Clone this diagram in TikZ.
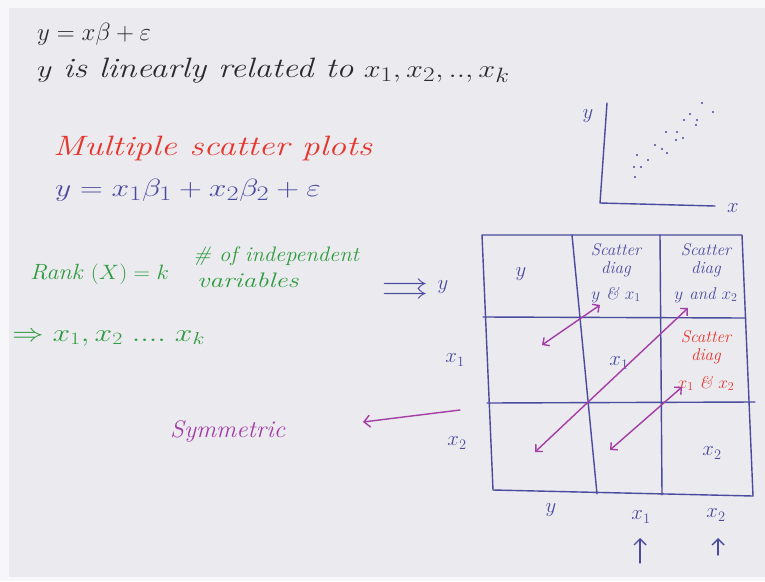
\documentclass[tikz,border=0pt]{standalone}
\usepackage{amsmath}
\usepackage{amssymb}
\usetikzlibrary{arrows.meta}

\definecolor{paper}{HTML}{EAEAEF}
\definecolor{inkblack}{HTML}{2B2B2E}
\definecolor{inkred}{HTML}{E8352C}
\definecolor{inkblue}{HTML}{4A4B9E}
\definecolor{inkgreen}{HTML}{2E9B3E}
\definecolor{inkpurple}{HTML}{A43DA6}

\begin{document}
\begin{tikzpicture}[x=1pt, y=-1pt,
  every node/.style={inner sep=0pt},
  line/.style={anchor=base west, font=\fontsize{24}{28}\selectfont},
  bigline/.style={anchor=base west, font=\fontsize{28}{32}\selectfont},
  lab/.style={anchor=center, font=\fontsize{20}{24}\selectfont},
  cell/.style={anchor=north, align=center, font=\fontsize{17}{18}\selectfont\itshape},
  pen/.style={line width=1.4pt, line cap=round, line join=round},
  link/.style={pen, inkpurple, {Straight Barb[length=5pt]}-{Straight Barb[length=5pt]}},
  tip/.style={pen, -{Straight Barb[length=6pt]}}
]
% paper
\fill[white!60!paper] (0,0) rectangle (765,581);
\fill[paper] (9,8) rectangle (765,577);
\useasboundingbox (0,0) rectangle (765,581);

% model
\node[line, inkblack] (model) at (37,40) {$y = x\beta + \varepsilon$};
\node[bigline, inkblack] (lin) at (37,77) {\scalebox{1.22}[1]{$y$ \textit{is linearly related to} $x_1, x_2, .., x_k$}};
\node[bigline, inkred] (title) at (53,155) {\scalebox{1.27}[1]{\textit{Multiple scatter plots}}};
\node[bigline, inkblue] (model2) at (55,196) {\scalebox{1.27}[1]{$y = x_1\beta_1 + x_2\beta_2 + \varepsilon$}};

% rank
\node[line, inkgreen, font=\fontsize{22}{26}\selectfont] (rank) at (30,279) {\scalebox{1.1}[1]{\textit{Rank} $(X) = k$}};
\node[line, inkgreen, font=\fontsize{21}{24}\selectfont\itshape] (indep) at (193,261) {\scalebox{1.07}[1]{\# of independent}};
\node[line, inkgreen, font=\fontsize{21}{24}\selectfont\itshape] (vars) at (197,287) {\scalebox{1.3}[1]{variables}};
\node[line, inkgreen] (vlist) at (12,341) {\scalebox{1.27}[1]{$\Rightarrow x_1, x_2 \;....\; x_k$}};

% row labels
\node[lab, inkblue, font=\fontsize{30}{30}\selectfont] (arr) at (405,289) {\scalebox{1.6}[1]{$\rightrightarrows$}};
\node[lab, inkblue] (ry) at (443,287) {$y$};
\node[lab, inkblue] (rx1) at (455,360) {$x_1$};
\node[lab, inkblue] (rx2) at (457,443) {$x_2$};
\node[line, inkpurple] (sym) at (170,437) {\scalebox{1.05}[1]{\textit{Symmetric}}};
\coordinate (symR) at (460,410);
\coordinate (symL) at (363,422);
\draw[tip, inkpurple] (symR) -- (symL);

% small scatter plot
\draw[pen, inkblue] (607,103) -- (600,203) -- (715,206);
\node[lab, inkblue] (py) at (588,116) {$y$};
\node[lab, inkblue] (px) at (733,208) {$x$};
\foreach \p in {(635,177),(634,167),(641,167),(637,155),(648,160),(655,145),
                (662,149),(667,153),(666,132),(676,140),(683,138),(677,132),
                (684,120),(690,114),(697,120),(696,125),(702,103),(713,112)}
  \fill[inkblue] \p circle (1.1pt);

% grid of scatter plots
\coordinate (tl) at (482,235); \coordinate (tr) at (742,235);
\coordinate (bl) at (493,490); \coordinate (br) at (753,496);
\coordinate (v1t) at (572,235); \coordinate (v1b) at (597,494);
\coordinate (v2t) at (660,235); \coordinate (v2b) at (662,495);
\coordinate (h1l) at (483,317); \coordinate (h1r) at (746,318);
\coordinate (h2l) at (487,403); \coordinate (h2r) at (755,402);
\draw[pen, inkblue] (tl) -- (tr) -- (br) -- (bl) -- cycle;
\foreach \a/\b in {v1t/v1b, v2t/v2b, h1l/h1r, h2l/h2r}
  \draw[pen, inkblue] (\a) -- (\b);

% cells
\node[lab, inkblue] (c11) at (521,274) {$y$};
\node[cell, inkblue] (c12) at (616,243) {Scatter\\diag\\[8pt]$y$ \& $x_1$};
\node[cell, inkblue] (c13) at (706,243) {Scatter\\diag\\[8pt]$y$ and $x_2$};
\node[lab, inkblue] (c22) at (619,363) {$x_1$};
\node[cell, inkred] (c23) at (706,330) {Scatter\\diag\\[10pt]$x_1$ \& $x_2$};
\node[lab, inkblue] (c33) at (712,453) {$x_2$};

% symmetric pairs
\coordinate (a1) at (542,345); \coordinate (b1) at (600,305);
\coordinate (a2) at (535,452); \coordinate (b2) at (688,308);
\coordinate (a3) at (610,450); \coordinate (b3) at (682,387);
\foreach \a/\b in {a1/b1, a2/b2, a3/b3}
  \draw[link] (\a) -- (\b);

% column labels
\node[lab, inkblue] (cy) at (551,510) {$y$};
\node[lab, inkblue] (cx1) at (641,517) {$x_1$};
\node[lab, inkblue] (cx2) at (716,515) {$x_2$};
\coordinate (u1) at (640,563); \coordinate (u1t) at (640,538);
\coordinate (u2) at (718,555); \coordinate (u2t) at (718,538);
\draw[tip, inkblue] (u1) -- (u1t);
\draw[tip, inkblue] (u2) -- (u2t);
\end{tikzpicture}
\end{document}
